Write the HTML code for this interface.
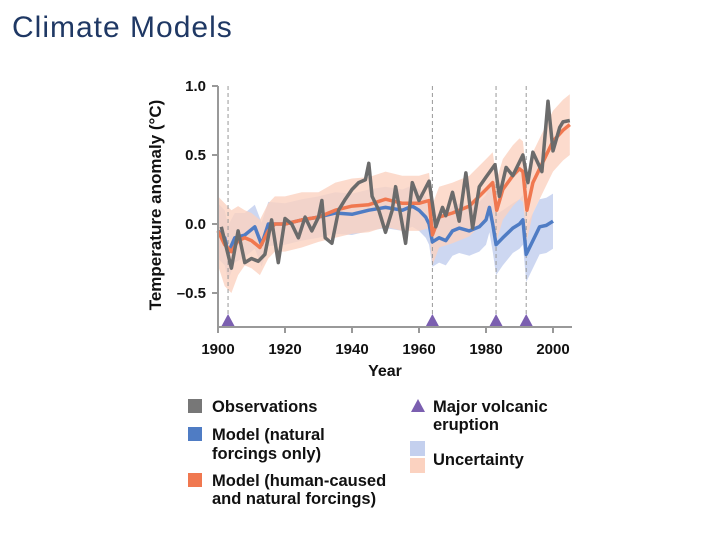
<!DOCTYPE html>
<html><head><meta charset="utf-8"><style>
body{margin:0;background:#fff;width:720px;height:540px;overflow:hidden;font-family:"Liberation Sans",sans-serif}
svg text{font-family:"Liberation Sans",sans-serif}
</style></head><body>
<svg id="chart" width="720" height="540" viewBox="0 0 720 540">
<text x="12" y="37" font-size="30" letter-spacing="1" fill="#1f3864">Climate Models</text>
<g id="bands"></g><g id="vlines"></g><g id="lines"></g><g id="axes"></g>
<g font-size="16.5" font-weight="bold" fill="#111">
<rect x="188" y="399" width="14" height="14" fill="#777"/>
<text x="212" y="412">Observations</text>
<rect x="188" y="427" width="14" height="14" fill="#4f7cc4"/>
<text x="212" y="440">Model (natural</text>
<text x="212" y="459">forcings only)</text>
<rect x="188" y="473" width="14" height="14" fill="#f07850"/>
<text x="212" y="486">Model (human-caused</text>
<text x="212" y="504">and natural forcings)</text>
<polygon points="418,399 425,412 411,412" fill="#7b5fb0"/>
<text x="433" y="412">Major volcanic</text>
<text x="433" y="430">eruption</text>
<rect x="410" y="441" width="15" height="15" fill="#c4d0ee"/>
<rect x="410" y="458" width="15" height="15" fill="#fbd2c0"/>
<text x="433" y="465">Uncertainty</text>
</g>
</svg>
<script>
const obsYears=[1901,1904,1906,1908,1910,1912,1914,1916,1918,1920,1922,1924,1926,1928,1930,1931,1932,1934,1936,1938,1940,1942,1944,1945,1946,1948,1950,1952,1953,1956,1958,1960,1963,1965,1967,1968,1970,1972,1974,1976,1978,1980,1982.7,1984,1986,1988,1991,1992.5,1994,1996.7,1998.5,2000,2002,2003,2005];
const obsValues=[-0.02,-0.32,-0.05,-0.28,-0.25,-0.27,-0.22,0.03,-0.28,0.04,0.0,-0.1,0.05,-0.05,0.05,0.17,-0.1,-0.14,0.1,0.18,0.25,0.3,0.32,0.44,0.2,0.1,-0.06,0.1,0.27,-0.14,0.3,0.17,0.31,-0.02,0.12,0.06,0.23,0.02,0.37,-0.03,0.27,0.34,0.43,0.2,0.41,0.35,0.5,0.3,0.52,0.38,0.89,0.53,0.7,0.74,0.75];
const humYears=[1900,1902,1904,1906,1908,1910,1912.5,1915,1917,1920,1925,1930,1935,1940,1945,1950,1955,1960,1963,1964,1966,1970,1975,1980,1982,1983.2,1985,1988,1990,1991,1992.2,1994,1996,1998,2000,2003,2005];
const humValues=[-0.05,-0.15,-0.2,-0.12,-0.1,-0.12,-0.17,-0.05,0.0,0.0,0.03,0.05,0.1,0.13,0.14,0.18,0.15,0.15,0.17,-0.08,0.05,0.08,0.13,0.25,0.3,0.1,0.25,0.35,0.4,0.38,0.1,0.3,0.4,0.5,0.6,0.68,0.72];
const humSpread=[0.25,0.3,0.3,0.25,0.2,0.2,0.2,0.2,0.2,0.2,0.2,0.18,0.2,0.2,0.2,0.2,0.2,0.2,0.2,0.22,0.22,0.22,0.22,0.22,0.22,0.22,0.22,0.22,0.22,0.22,0.22,0.22,0.22,0.22,0.22,0.22,0.22];
const natYears=[1900,1902,1903,1905,1908,1911,1913,1915,1920,1925,1930,1935,1940,1945,1950,1955,1958,1960,1962,1963,1964,1966,1968,1970,1972,1975,1978,1980,1981,1982,1983,1985,1988,1990,1991,1992,1994,1996,1998,2000];
const natValues=[-0.05,-0.1,-0.21,-0.1,-0.08,-0.02,-0.15,0.0,0.0,0.03,0.05,0.08,0.07,0.1,0.12,0.1,0.13,0.1,0.05,0.0,-0.13,-0.1,-0.12,-0.05,-0.03,-0.05,-0.02,0.03,0.12,0.0,-0.15,-0.1,-0.03,0.0,0.03,-0.22,-0.12,-0.02,-0.01,0.02];
const natSpread=[0.2,0.2,0.2,0.18,0.16,0.16,0.16,0.16,0.15,0.15,0.15,0.15,0.15,0.15,0.15,0.15,0.15,0.15,0.15,0.15,0.18,0.18,0.18,0.18,0.18,0.18,0.18,0.18,0.18,0.2,0.22,0.2,0.18,0.18,0.18,0.2,0.2,0.2,0.2,0.2];
const volcanoYears=[1903,1964,1983,1992];
const yTicks=[1.0,0.5,0.0,-0.5];
const yTickLabels=["1.0","0.5","0.0","\u20130.5"];
const xTicks=[1900,1920,1940,1960,1980,2000];

const NS="http://www.w3.org/2000/svg";
const X0=218,X1=572,Y0=86,Y1=327;
const xS=y=>X0+(y-1900)*3.35;
const yS=v=>224-v*138;
function mk(tag,parent,attrs){const e=document.createElementNS(NS,tag);for(const k in attrs)e.setAttribute(k,attrs[k]);document.getElementById(parent).appendChild(e);return e;}
function linePts(xs,vs){return xs.map((x,i)=>xS(x).toFixed(1)+","+yS(vs[i]).toFixed(1)).join(" ");}
function bandPts(xs,vs,sp){const up=xs.map((x,i)=>xS(x).toFixed(1)+","+yS(vs[i]+sp[i]).toFixed(1));const lo=xs.map((x,i)=>xS(x).toFixed(1)+","+yS(vs[i]-sp[i]).toFixed(1)).reverse();return up.concat(lo).join(" ");}

let b=mk("polygon","bands",{points:bandPts(natYears,natValues,natSpread),fill:"#c4d0ee","fill-opacity":"0.85"});


b=mk("polygon","bands",{points:bandPts(humYears,humValues,humSpread),fill:"#fbd2c0","fill-opacity":"0.8"});



volcanoYears.forEach(v=>{
 const l=mk("line","vlines",{x1:xS(v),x2:xS(v),y1:Y0,y2:Y1,stroke:"#999","stroke-width":1,"stroke-dasharray":"4,3"});
 
 
 const t=mk("polygon","axes",{points:`${xS(v)},${Y1-13} ${xS(v)+7},${Y1} ${xS(v)-7},${Y1}`,fill:"#7b5fb0"});
 
 
});

let p=mk("polyline","lines",{points:linePts(natYears,natValues),fill:"none",stroke:"#4f7cc4","stroke-width":3.5,"stroke-linejoin":"round"});


p=mk("polyline","lines",{points:linePts(humYears,humValues),fill:"none",stroke:"#f07850","stroke-width":3.5,"stroke-linejoin":"round"});


p=mk("polyline","lines",{points:linePts(obsYears,obsValues),fill:"none",stroke:"#6b6b6b","stroke-width":3.5,"stroke-linejoin":"round"});



let a=mk("line","axes",{x1:X0,x2:X0,y1:Y0,y2:Y1,stroke:"#999","stroke-width":2});


a=mk("line","axes",{x1:X0,x2:X1,y1:Y1,y2:Y1,stroke:"#999","stroke-width":2});


yTicks.forEach((v,i)=>{
 const t=mk("line","axes",{x1:X0-6,x2:X0,y1:yS(v),y2:yS(v),stroke:"#999","stroke-width":2});
 
 
 const tx=mk("text","axes",{x:X0-12,y:yS(v)+5,"text-anchor":"end","font-size":15,"font-weight":"bold",fill:"#111"});
 tx.textContent=yTickLabels[i];
 
 
});
xTicks.forEach(v=>{
 const t=mk("line","axes",{x1:xS(v),x2:xS(v),y1:Y1,y2:Y1+6,stroke:"#999","stroke-width":2});
 
 
 const tx=mk("text","axes",{x:xS(v),y:354,"text-anchor":"middle","font-size":15,"font-weight":"bold",fill:"#111"});
 tx.textContent=String(v);
 
 
});
let xt=mk("text","axes",{x:385,y:376,"text-anchor":"middle","font-size":16,"font-weight":"bold",fill:"#111"});
xt.textContent="Year";


let yt=mk("text","axes",{x:0,y:0,transform:"translate(161,205) rotate(-90)","text-anchor":"middle","font-size":17,"font-weight":"bold",fill:"#111"});
yt.textContent="Temperature anomaly (\u00B0C)";


</script>
</body></html>
